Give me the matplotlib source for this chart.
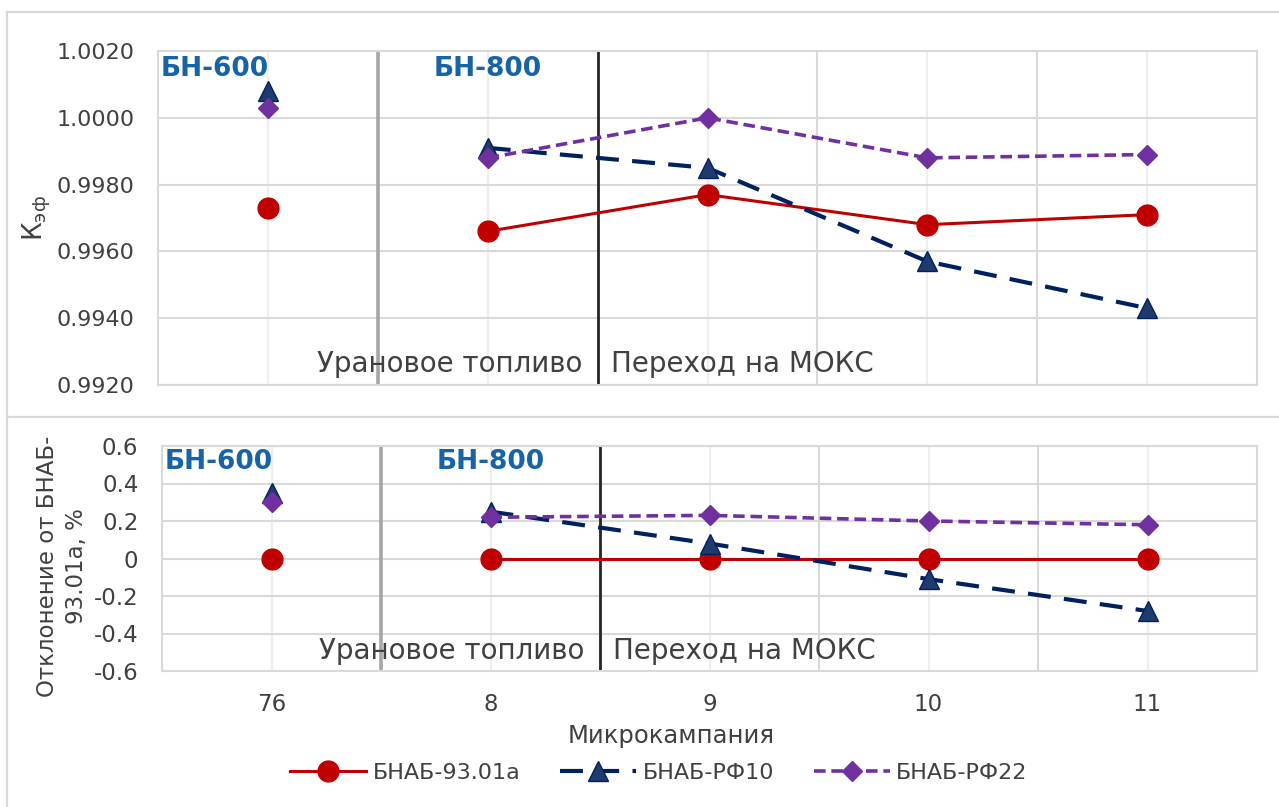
import matplotlib
matplotlib.use("Agg")
import matplotlib.pyplot as plt
from matplotlib.lines import Line2D
import numpy as np

# data
campaigns = ["76", "8", "9", "10", "11"]
keff_9301a = [0.9973, 0.9966, 0.9977, 0.9968, 0.9971]
keff_rf10 = [1.0008, 0.9991, 0.9985, 0.9957, 0.9943]
keff_rf22 = [1.0003, 0.9988, 1.0000, 0.9988, 0.9989]

dev_9301a = [0.0, 0.0, 0.0, 0.0, 0.0]
dev_rf10 = [0.35, 0.25, 0.08, -0.11, -0.28]
dev_rf22 = [0.30, 0.22, 0.23, 0.20, 0.18]

top_yticks = [0.9920, 0.9940, 0.9960, 0.9980, 1.0000, 1.0020]
top_yticklabels = ["0.9920", "0.9940", "0.9960", "0.9980", "1.0000", "1.0020"]
bot_yticks = [-0.6, -0.4, -0.2, 0.0, 0.2, 0.4, 0.6]
bot_yticklabels = ["-0.6", "-0.4", "-0.2", "0", "0.2", "0.4", "0.6"]

series_labels = ["БНАБ-93.01а", "БНАБ-РФ10", "БНАБ-РФ22"]

W, H = 1279, 807
TEXT = "#404040"
BLUE_TXT = "#1763a6"
GRID = "#d9d9d9"

STYLES = [
    dict(color="#c00000", lw=2.2, ls="-", marker="o", ms=15, mfc="#c00000", mec="#c00000"),
    dict(color="#002060", lw=3.0, ls=(0, (5.5, 3.2)), marker="^", ms=14, mfc="#1f3b6e", mec="#002060"),
    dict(color="#7030a0", lw=2.6, ls=(0, (3.2, 1.6)), marker="D", ms=10.5, mfc="#7030a0", mec="#7030a0"),
]

x = np.arange(len(campaigns))

fig = plt.figure(figsize=(W / 100, H / 100), dpi=100)
ax_top = fig.add_axes([158 / W, 1 - 385 / H, 1099 / W, 334 / H])
ax_bot = fig.add_axes([162 / W, 1 - 671 / H, 1095 / W, 225 / H])

# chart frames like the two stacked Excel charts
for coords in [([7 / W, 1.0], [1 - 12 / H, 1 - 12 / H]),
               ([7 / W, 7 / W], [0.0, 1 - 12 / H]),
               ([7 / W, 1.0], [1 - 417 / H, 1 - 417 / H])]:
    fig.add_artist(Line2D(coords[0], coords[1], transform=fig.transFigure,
                          color=GRID, lw=1.6))


def style_axes(ax, yticks, yticklabels, ylim, ysize):
    ax.set_xlim(-0.5, len(campaigns) - 0.5)
    ax.set_ylim(*ylim)
    ax.set_yticks(yticks)
    ax.set_yticklabels(yticklabels, fontsize=ysize, color=TEXT)
    ax.set_xticks(x)
    ax.set_xticks(x[:-1] + 0.5, minor=True)
    ax.grid(True, which="major", axis="y", color=GRID, lw=1.5, zorder=0)
    ax.grid(True, which="major", axis="x", color="#eeeeee", lw=1.5, zorder=0)
    ax.grid(True, which="minor", axis="x", color=GRID, lw=1.5, zorder=0)
    ax.set_axisbelow(True)
    for sp in ax.spines.values():
        sp.set_color(GRID)
        sp.set_linewidth(1.5)
    ax.tick_params(axis="both", which="both", length=0)
    ax.tick_params(axis="y", pad=17)
    ax.axvline(0.5, color="#a6a6a6", lw=2.6, zorder=2)
    ax.axvline(1.5, color="#262626", lw=2.0, zorder=2)


def draw_series(ax, values_list):
    handles = []
    for vals, st, lab in zip(values_list, STYLES, series_labels):
        vals = np.asarray(vals)
        h, = ax.plot(x[1:], vals[1:], color=st["color"], lw=st["lw"], ls=st["ls"],
                     marker=st["marker"], ms=st["ms"], mfc=st["mfc"], mec=st["mec"],
                     label=lab, zorder=3)
        ax.plot(x[:1], vals[:1], ls="none", marker=st["marker"], ms=st["ms"],
                mfc=st["mfc"], mec=st["mec"], zorder=3)
        handles.append(h)
    return handles


def annotate(ax, base_frac):
    trans = ax.get_xaxis_transform()
    ax.text(-0.49, 0.985, "БН-600", transform=trans, fontsize=19, fontweight="bold",
            color=BLUE_TXT, ha="left", va="top")
    ax.text(1.0, 0.985, "БН-800", transform=trans, fontsize=19, fontweight="bold",
            color=BLUE_TXT, ha="center", va="top")
    ax.text(1.43, base_frac, "Урановое топливо", transform=trans, fontsize=20,
            color=TEXT, ha="right", va="baseline")
    ax.text(1.56, base_frac, "Переход на МОКС", transform=trans, fontsize=20,
            color=TEXT, ha="left", va="baseline")


style_axes(ax_top, top_yticks, top_yticklabels, (0.9920, 1.0020), 16)
ax_top.set_xticklabels([])
draw_series(ax_top, [keff_9301a, keff_rf10, keff_rf22])
annotate(ax_top, 0.038)

style_axes(ax_bot, bot_yticks, bot_yticklabels, (-0.6, 0.6), 16.5)
ax_bot.set_xticklabels(campaigns, fontsize=16.5, color=TEXT)
ax_bot.tick_params(axis="x", pad=16)
handles = draw_series(ax_bot, [dev_9301a, dev_rf10, dev_rf22])
annotate(ax_bot, 0.052)

fig.text(37 / W, 1 - 218 / H, r"К$_{\mathregular{эф}}$", rotation=90, fontsize=19,
         color=TEXT, ha="center", va="center")
fig.text(62 / W, 1 - 566 / H, "Отклонение от БНАБ-\n93.01а, %", rotation=90,
         fontsize=16.5, color=TEXT, ha="center", va="center", multialignment="center",
         linespacing=1.35)
fig.text(671 / W, 1 - 736 / H, "Микрокампания", fontsize=17.5, color=TEXT,
         ha="center", va="center")

fig.legend(handles=handles, labels=series_labels, loc="center",
           bbox_to_anchor=(659 / W, 1 - 773 / H), ncol=3, frameon=False,
           fontsize=16, handlelength=3.4, handletextpad=0.3, columnspacing=1.8,
           numpoints=1, labelcolor=TEXT)

fig.savefig("out.png", dpi=100)
